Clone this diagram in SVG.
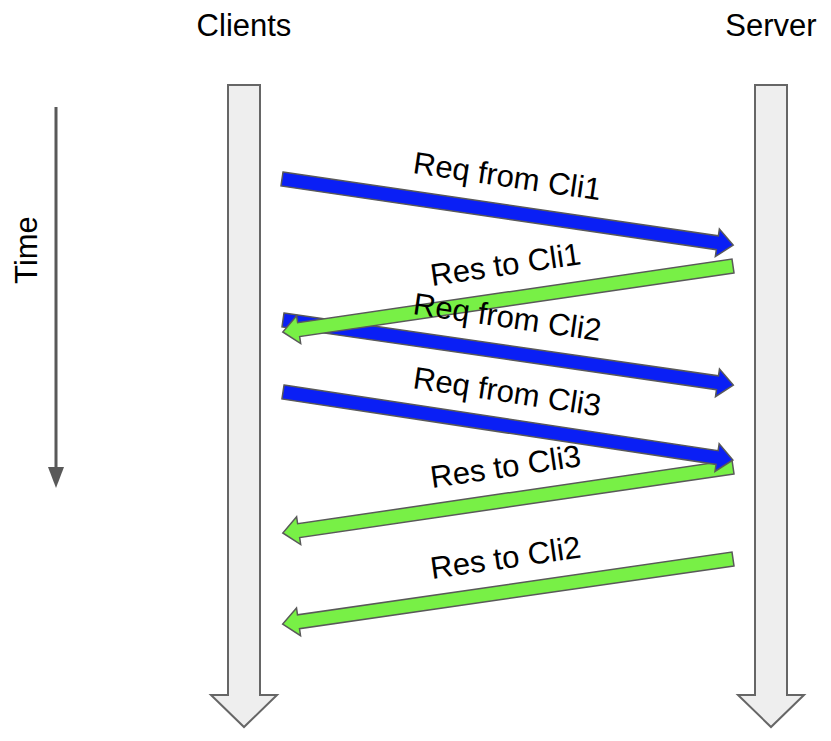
<svg xmlns="http://www.w3.org/2000/svg" width="831" height="741" viewBox="0 0 831 741">
<style>
.lbl{font-family:"Liberation Sans",Arial,sans-serif;font-size:31px;fill:#000}
.col{fill:#eeeeee;stroke:#666666;stroke-width:2}
.req{fill:#0a1ff5;stroke:#595959;stroke-width:1.5}
.res{fill:#78f046;stroke:#595959;stroke-width:1.5}
</style>
<rect width="831" height="741" fill="#ffffff"/>
<g id="clients">
<polygon class="col" points="228,85 260,85 260,695 277,695 244,727 211,695 228,695"/>
<text class="lbl" x="244" y="36" text-anchor="middle">Clients</text>
</g>
<g id="server">
<polygon class="col" points="755,85 787,85 787,695 804,695 771,727 738,695 755,695"/>
<text class="lbl" x="771" y="36" text-anchor="middle">Server</text>
</g>
<g id="time">
<line x1="56" y1="107" x2="56" y2="470" stroke="#595959" stroke-width="3"/>
<polygon points="48,467 64,467 56,488" fill="#595959"/>
<text class="lbl" x="37" y="250" text-anchor="middle" transform="rotate(-90 37 250)">Time</text>
</g>
<g id="connectors">
<g id="req1">
<path class="req" transform="translate(282,179) rotate(8.33)" d="M0,-7 H440 V-14 L456,0 L440,14 V7 H0 Z"/>
</g>
<g id="req2">
<path class="req" transform="translate(283,320) rotate(8.22)" d="M0,-7 H439 V-14 L455,0 L439,14 V7 H0 Z"/>
</g>
<g id="res1">
<path class="res" transform="translate(733,266) rotate(171.66)" d="M0,-7 H439 V-14 L455,0 L439,14 V7 H0 Z"/>
</g>
<g id="res3">
<path class="res" transform="translate(733,467) rotate(171.66)" d="M0,-7 H439 V-14 L455,0 L439,14 V7 H0 Z"/>
</g>
<g id="req3">
<path class="req" transform="translate(283,392) rotate(8.59)" d="M0,-7 H439 V-14 L455,0 L439,14 V7 H0 Z"/>
</g>
<g id="res2">
<path class="res" transform="translate(733,559) rotate(171.78)" d="M0,-7 H439 V-14 L455,0 L439,14 V7 H0 Z"/>
</g>
</g>
<g id="labels">
<text class="lbl" x="412" y="173" transform="rotate(8.3 412 173)">Req from Cli1</text>
<text class="lbl" x="432" y="286" transform="rotate(-8.3 432 286)">Res to Cli1</text>
<text class="lbl" x="412" y="314" transform="rotate(8.2 412 314)">Req from Cli2</text>
<text class="lbl" x="412" y="388" transform="rotate(8.6 412 388)">Req from Cli3</text>
<text class="lbl" x="432" y="488" transform="rotate(-8.3 432 488)">Res to Cli3</text>
<text class="lbl" x="432" y="579" transform="rotate(-8.2 432 579)">Res to Cli2</text>
</g>
</svg>
